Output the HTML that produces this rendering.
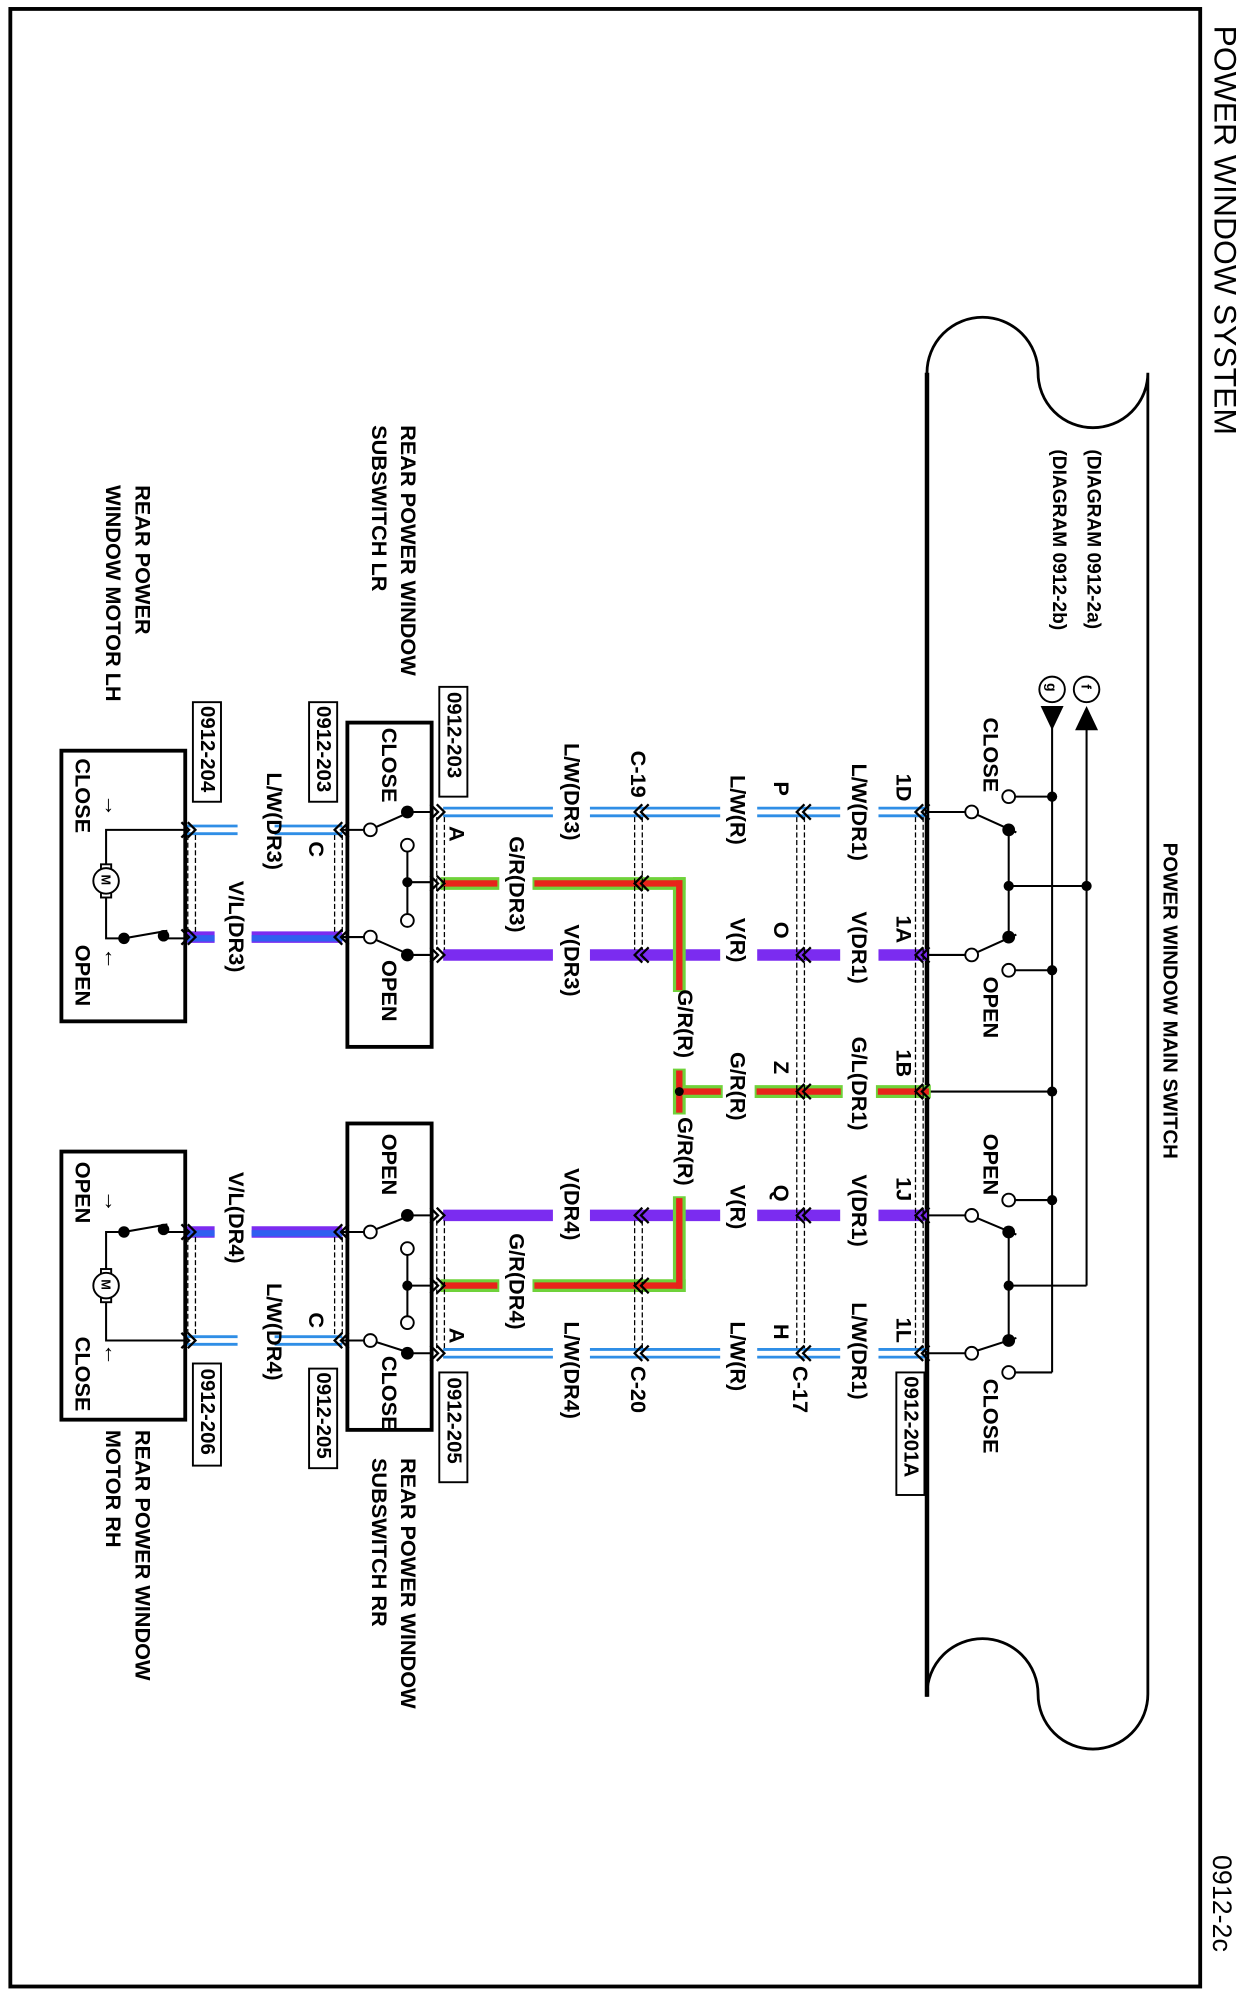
<!DOCTYPE html>
<html><head><meta charset="utf-8"><style>
html,body{margin:0;padding:0;background:#fff;}
svg{display:block;}
text{font-family:"Liberation Sans",Arial,sans-serif;font-weight:bold;fill:#000;}
</style></head><body>
<svg width="1245" height="1998" viewBox="0 0 975 1565" xmlns="http://www.w3.org/2000/svg">
<defs>
<g id="chL" fill="none" stroke="#000" stroke-width="1.8"><path d="M3,-6 L-3,0 L3,6 M8,-6 L2,0 L8,6"/></g>
<g id="chR" fill="none" stroke="#000" stroke-width="1.8"><path d="M-3,-6 L3,0 L-3,6 M-8,-6 L-2,0 L-8,6"/></g>
</defs>
<rect x="8" y="7" width="932" height="1549" fill="none" stroke="#000" stroke-width="3"/>
<text transform="translate(960,20) rotate(90)" font-size="25" dominant-baseline="central" style="font-weight:normal">POWER WINDOW SYSTEM</text>
<text transform="translate(957,1453) rotate(90)" font-size="21" dominant-baseline="central" style="font-weight:normal">0912-2c</text>

<!-- main switch outline -->
<path d="M726,1329 L726,292 A43,43 0 0 1 813,292 A43,43 0 0 0 899,292 L899,1327 A43,43 0 0 1 813,1327 A43,43 0 0 0 726,1327" fill="none" stroke="#000" stroke-width="2.2"/>
<line x1="726" y1="292" x2="726" y2="1329" stroke="#000" stroke-width="3.5"/>
<text transform="translate(916,660) rotate(90)" font-size="16" dominant-baseline="central">POWER WINDOW MAIN SWITCH</text>
<text transform="translate(856,352) rotate(90)" font-size="15" dominant-baseline="central">(DIAGRAM  0912-2a)</text>
<text transform="translate(829,352) rotate(90)" font-size="15" dominant-baseline="central">(DIAGRAM  0912-2b)</text>
<circle cx="851" cy="540" r="10" fill="#fff" stroke="#000" stroke-width="1.5"/>
<text transform="translate(851,536) rotate(90)" font-size="11" dominant-baseline="central">f</text>
<circle cx="824" cy="540" r="10" fill="#fff" stroke="#000" stroke-width="1.5"/>
<text transform="translate(824,535) rotate(90)" font-size="11" dominant-baseline="central">g</text>
<polygon points="815,553 833,553 824,572" fill="#000"/>
<polygon points="842,572 860,572 851,553" fill="#000"/>

<g stroke="#000" stroke-width="1.6" fill="none">
<line x1="824" y1="570" x2="824" y2="1075"/>
<line x1="851" y1="570" x2="851" y2="1007"/>
<line x1="795" y1="624" x2="824" y2="624"/>
<line x1="726" y1="636" x2="756" y2="636"/>
<line x1="765" y1="638" x2="796" y2="652"/>
<line x1="790" y1="650" x2="790" y2="734"/>
<line x1="790" y1="694" x2="851" y2="694"/>
<line x1="726" y1="748" x2="756" y2="748"/>
<line x1="765" y1="746" x2="796" y2="732"/>
<line x1="795" y1="760" x2="824" y2="760"/>
<line x1="726" y1="855" x2="824" y2="855"/>
<line x1="795" y1="940" x2="824" y2="940"/>
<line x1="726" y1="952" x2="756" y2="952"/>
<line x1="765" y1="954" x2="796" y2="967"/>
<line x1="790" y1="965" x2="790" y2="1050"/>
<line x1="790" y1="1007" x2="851" y2="1007"/>
<line x1="726" y1="1060" x2="756" y2="1060"/>
<line x1="765" y1="1058" x2="796" y2="1048"/>
<line x1="795" y1="1075" x2="824" y2="1075"/>
</g>
<g fill="#fff" stroke="#000" stroke-width="1.5">
<circle cx="790" cy="624" r="5"/><circle cx="761" cy="636" r="5"/><circle cx="761" cy="748" r="5"/><circle cx="790" cy="760" r="5"/>
<circle cx="790" cy="940" r="5"/><circle cx="761" cy="952" r="5"/><circle cx="761" cy="1060" r="5"/><circle cx="790" cy="1075" r="5"/>
</g>
<g fill="#000">
<circle cx="824" cy="624" r="4"/><circle cx="790" cy="650" r="5"/><circle cx="790" cy="694" r="4"/><circle cx="851" cy="694" r="4"/>
<circle cx="790" cy="734" r="5"/><circle cx="824" cy="760" r="4"/><circle cx="824" cy="855" r="4"/><circle cx="824" cy="940" r="4"/>
<circle cx="790" cy="965" r="5"/><circle cx="790" cy="1007" r="4"/><circle cx="790" cy="1050" r="5"/>
</g>
<g font-size="17">
<text transform="translate(776,562) rotate(90)" dominant-baseline="central">CLOSE</text>
<text transform="translate(776,765) rotate(90)" dominant-baseline="central">OPEN</text>
<text transform="translate(776,888) rotate(90)" dominant-baseline="central">OPEN</text>
<text transform="translate(776,1080) rotate(90)" dominant-baseline="central">CLOSE</text>
</g>

<!-- wires -->
<g stroke="#2f8ee6" stroke-width="2.2">
<line x1="347" y1="633" x2="433" y2="633"/><line x1="347" y1="639" x2="433" y2="639"/>
<line x1="462" y1="633" x2="564" y2="633"/><line x1="462" y1="639" x2="564" y2="639"/>
<line x1="593" y1="633" x2="658" y2="633"/><line x1="593" y1="639" x2="658" y2="639"/>
<line x1="688" y1="633" x2="726" y2="633"/><line x1="688" y1="639" x2="726" y2="639"/>
<line x1="347" y1="1057" x2="433" y2="1057"/><line x1="347" y1="1063" x2="433" y2="1063"/>
<line x1="462" y1="1057" x2="564" y2="1057"/><line x1="462" y1="1063" x2="564" y2="1063"/>
<line x1="593" y1="1057" x2="658" y2="1057"/><line x1="593" y1="1063" x2="658" y2="1063"/>
<line x1="688" y1="1057" x2="726" y2="1057"/><line x1="688" y1="1063" x2="726" y2="1063"/>
<line x1="146" y1="647" x2="186" y2="647"/><line x1="146" y1="653" x2="186" y2="653"/>
<line x1="215" y1="647" x2="268" y2="647"/><line x1="215" y1="653" x2="268" y2="653"/>
<line x1="146" y1="1047" x2="186" y2="1047"/><line x1="146" y1="1053" x2="186" y2="1053"/>
<line x1="215" y1="1047" x2="268" y2="1047"/><line x1="215" y1="1053" x2="268" y2="1053"/>
</g>
<g stroke="#7b2cf0" stroke-width="9">
<line x1="347" y1="748" x2="433" y2="748"/><line x1="462" y1="748" x2="564" y2="748"/><line x1="593" y1="748" x2="658" y2="748"/><line x1="688" y1="748" x2="726" y2="748"/>
<line x1="347" y1="952" x2="433" y2="952"/><line x1="462" y1="952" x2="564" y2="952"/><line x1="593" y1="952" x2="658" y2="952"/><line x1="688" y1="952" x2="726" y2="952"/>
<line x1="146" y1="734" x2="168" y2="734"/><line x1="197" y1="734" x2="268" y2="734"/>
<line x1="146" y1="965" x2="168" y2="965"/><line x1="197" y1="965" x2="268" y2="965"/>
</g>
<g stroke="#2f5ff0" stroke-width="5">
<line x1="146" y1="735" x2="168" y2="735"/><line x1="197" y1="735" x2="268" y2="735"/>
<line x1="146" y1="966" x2="168" y2="966"/><line x1="197" y1="966" x2="268" y2="966"/>
</g>
<g stroke="#6fd23a" stroke-width="10" stroke-linecap="square">
<line x1="350" y1="692" x2="386" y2="692"/><line x1="422" y1="692" x2="532" y2="692"/>
<line x1="350" y1="1007" x2="386" y2="1007"/><line x1="422" y1="1007" x2="532" y2="1007"/>
<line x1="532" y1="692" x2="532" y2="772"/><line x1="532" y1="842" x2="532" y2="868"/><line x1="532" y1="942" x2="532" y2="1007"/>
<line x1="535" y1="855" x2="561" y2="855"/><line x1="596" y1="855" x2="655" y2="855"/><line x1="691" y1="855" x2="724" y2="855"/>
</g>
<g stroke="#e8231a" stroke-width="5" stroke-linecap="square">
<line x1="349" y1="692" x2="387" y2="692"/><line x1="421" y1="692" x2="532" y2="692"/>
<line x1="349" y1="1007" x2="387" y2="1007"/><line x1="421" y1="1007" x2="532" y2="1007"/>
<line x1="532" y1="692" x2="532" y2="773"/><line x1="532" y1="841" x2="532" y2="869"/><line x1="532" y1="941" x2="532" y2="1007"/>
<line x1="534" y1="855" x2="562" y2="855"/><line x1="595" y1="855" x2="656" y2="855"/><line x1="690" y1="855" x2="725" y2="855"/>
</g>
<circle cx="532" cy="855" r="3.5" fill="#000"/>

<g stroke="#000" stroke-width="1" stroke-dasharray="4 2" fill="none">
<line x1="717" y1="640" x2="717" y2="1056"/><line x1="723" y1="640" x2="723" y2="1056"/>
<line x1="624" y1="640" x2="624" y2="1056"/><line x1="630" y1="640" x2="630" y2="1056"/>
<line x1="497" y1="640" x2="497" y2="744"/><line x1="503" y1="640" x2="503" y2="744"/>
<line x1="497" y1="956" x2="497" y2="1056"/><line x1="503" y1="956" x2="503" y2="1056"/>
<line x1="342" y1="640" x2="342" y2="744"/><line x1="348" y1="640" x2="348" y2="744"/>
<line x1="342" y1="956" x2="342" y2="1056"/><line x1="348" y1="956" x2="348" y2="1056"/>
<line x1="262" y1="654" x2="262" y2="730"/><line x1="268" y1="654" x2="268" y2="730"/>
<line x1="262" y1="969" x2="262" y2="1046"/><line x1="268" y1="969" x2="268" y2="1046"/>
<line x1="147" y1="654" x2="147" y2="730"/><line x1="153" y1="654" x2="153" y2="730"/>
<line x1="147" y1="969" x2="147" y2="1046"/><line x1="153" y1="969" x2="153" y2="1046"/>
</g>
<g>
<use href="#chL" x="720" y="636"/><use href="#chL" x="720" y="748"/><use href="#chL" x="720" y="855"/><use href="#chL" x="720" y="952"/><use href="#chL" x="720" y="1060"/>
<use href="#chL" x="627" y="636"/><use href="#chL" x="627" y="748"/><use href="#chL" x="627" y="855"/><use href="#chL" x="627" y="952"/><use href="#chL" x="627" y="1060"/>
<use href="#chL" x="500" y="636"/><use href="#chL" x="500" y="692"/><use href="#chL" x="500" y="748"/><use href="#chL" x="500" y="952"/><use href="#chL" x="500" y="1007"/><use href="#chL" x="500" y="1060"/>
<use href="#chR" x="345" y="636"/><use href="#chR" x="345" y="692"/><use href="#chR" x="345" y="748"/><use href="#chR" x="345" y="952"/><use href="#chR" x="345" y="1007"/><use href="#chR" x="345" y="1060"/>
<use href="#chL" x="265" y="650"/><use href="#chL" x="265" y="734"/><use href="#chL" x="265" y="965"/><use href="#chL" x="265" y="1050"/>
<use href="#chR" x="150" y="650"/><use href="#chR" x="150" y="734"/><use href="#chR" x="150" y="965"/><use href="#chR" x="150" y="1050"/>
</g>

<g stroke="#000" fill="none">
<rect x="272" y="566" width="66" height="254" stroke-width="3"/>
<rect x="272" y="880" width="66" height="240" stroke-width="3"/>
<rect x="48" y="588" width="97" height="212" stroke-width="3"/>
<rect x="48" y="902" width="97" height="210" stroke-width="3"/>
<g stroke-width="1.6">
<line x1="319" y1="636" x2="338" y2="636"/><line x1="319" y1="637" x2="294" y2="648"/><line x1="285" y1="650" x2="268" y2="650"/>
<line x1="319" y1="667" x2="319" y2="716"/><line x1="319" y1="691" x2="338" y2="691"/>
<line x1="319" y1="748" x2="338" y2="748"/><line x1="319" y1="747" x2="294" y2="736"/><line x1="285" y1="734" x2="268" y2="734"/>
<line x1="319" y1="952" x2="338" y2="952"/><line x1="319" y1="953" x2="294" y2="963"/><line x1="285" y1="965" x2="268" y2="965"/>
<line x1="319" y1="983" x2="319" y2="1031"/><line x1="319" y1="1007" x2="338" y2="1007"/>
<line x1="319" y1="1060" x2="338" y2="1060"/><line x1="319" y1="1059" x2="294" y2="1051"/><line x1="285" y1="1050" x2="268" y2="1050"/>
<polyline points="145,650 83,650 83,680"/><polyline points="83,700 83,735 97,735"/><line x1="97" y1="735" x2="131" y2="729"/><line x1="128" y1="735" x2="145" y2="735"/>
<polyline points="145,1050 83,1050 83,1017"/><polyline points="83,997 83,965 97,965"/><line x1="97" y1="965" x2="131" y2="959"/><line x1="128" y1="965" x2="145" y2="965"/>
</g>
</g>
<g fill="#fff" stroke="#000" stroke-width="1.5">
<circle cx="290" cy="650" r="5"/><circle cx="319" cy="662" r="5"/><circle cx="319" cy="721" r="5"/><circle cx="290" cy="734" r="5"/>
<circle cx="290" cy="965" r="5"/><circle cx="319" cy="978" r="5"/><circle cx="319" cy="1036" r="5"/><circle cx="290" cy="1050" r="5"/>
<rect x="79" y="677" width="8" height="4"/><rect x="79" y="699" width="8" height="4"/><circle cx="83" cy="690" r="10"/>
<rect x="79" y="994" width="8" height="4"/><rect x="79" y="1016" width="8" height="4"/><circle cx="83" cy="1007" r="10"/>
</g>
<g fill="#000">
<circle cx="319" cy="636" r="5"/><circle cx="319" cy="691" r="4"/><circle cx="319" cy="748" r="5"/>
<circle cx="319" cy="952" r="5"/><circle cx="319" cy="1007" r="4"/><circle cx="319" cy="1060" r="5"/>
<circle cx="97" cy="735" r="4.5"/><circle cx="128" cy="733" r="4.5"/>
<circle cx="97" cy="965" r="4.5"/><circle cx="128" cy="963" r="4.5"/>
</g>
<text transform="translate(83,685) rotate(90)" font-size="10" dominant-baseline="central">M</text>
<text transform="translate(83,1002) rotate(90)" font-size="10" dominant-baseline="central">M</text>

<g font-size="17">
<text transform="translate(305,570) rotate(90)" dominant-baseline="central">CLOSE</text>
<text transform="translate(305,752) rotate(90)" dominant-baseline="central">OPEN</text>
<text transform="translate(305,888) rotate(90)" dominant-baseline="central">OPEN</text>
<text transform="translate(305,1062) rotate(90)" dominant-baseline="central">CLOSE</text>
<text transform="translate(65,594) rotate(90)" dominant-baseline="central">CLOSE</text>
<text transform="translate(65,740) rotate(90)" dominant-baseline="central">OPEN</text>
<text transform="translate(65,910) rotate(90)" dominant-baseline="central">OPEN</text>
<text transform="translate(65,1047) rotate(90)" dominant-baseline="central">CLOSE</text>
<text transform="translate(88,622) rotate(90)" font-size="18" dominant-baseline="central">→</text>
<text transform="translate(88,742) rotate(90)" font-size="18" dominant-baseline="central">←</text>
<text transform="translate(88,932) rotate(90)" font-size="18" dominant-baseline="central">→</text>
<text transform="translate(88,1052) rotate(90)" font-size="18" dominant-baseline="central">←</text>

<text transform="translate(708,606) rotate(90)" dominant-baseline="central">1D</text>
<text transform="translate(673,598) rotate(90)" dominant-baseline="central">L/W(DR1)</text>
<text transform="translate(708,717) rotate(90)" dominant-baseline="central">1A</text>
<text transform="translate(673,714) rotate(90)" dominant-baseline="central">V(DR1)</text>
<text transform="translate(708,822) rotate(90)" dominant-baseline="central">1B</text>
<text transform="translate(673,812) rotate(90)" dominant-baseline="central">G/L(DR1)</text>
<text transform="translate(708,922) rotate(90)" dominant-baseline="central">1J</text>
<text transform="translate(673,920) rotate(90)" dominant-baseline="central">V(DR1)</text>
<text transform="translate(708,1032) rotate(90)" dominant-baseline="central">1L</text>
<text transform="translate(673,1020) rotate(90)" dominant-baseline="central">L/W(DR1)</text>

<text transform="translate(612,612) rotate(90)" dominant-baseline="central">P</text>
<text transform="translate(612,722) rotate(90)" dominant-baseline="central">O</text>
<text transform="translate(612,831) rotate(90)" dominant-baseline="central">Z</text>
<text transform="translate(612,928) rotate(90)" dominant-baseline="central">Q</text>
<text transform="translate(612,1037) rotate(90)" dominant-baseline="central">H</text>
<text transform="translate(627,1070) rotate(90)" dominant-baseline="central">C-17</text>

<text transform="translate(578,607) rotate(90)" dominant-baseline="central">L/W(R)</text>
<text transform="translate(578,719) rotate(90)" dominant-baseline="central">V(R)</text>
<text transform="translate(578,824) rotate(90)" dominant-baseline="central">G/R(R)</text>
<text transform="translate(578,928) rotate(90)" dominant-baseline="central">V(R)</text>
<text transform="translate(578,1035) rotate(90)" dominant-baseline="central">L/W(R)</text>

<text transform="translate(537,775) rotate(90)" dominant-baseline="central">G/R(R)</text>
<text transform="translate(537,875) rotate(90)" dominant-baseline="central">G/R(R)</text>

<text transform="translate(500,588) rotate(90)" dominant-baseline="central">C-19</text>
<text transform="translate(500,1070) rotate(90)" dominant-baseline="central">C-20</text>

<text transform="translate(448,582) rotate(90)" dominant-baseline="central">L/W(DR3)</text>
<text transform="translate(448,724) rotate(90)" dominant-baseline="central">V(DR3)</text>
<text transform="translate(448,915) rotate(90)" dominant-baseline="central">V(DR4)</text>
<text transform="translate(448,1035) rotate(90)" dominant-baseline="central">L/W(DR4)</text>
<text transform="translate(405,655) rotate(90)" dominant-baseline="central">G/R(DR3)</text>
<text transform="translate(405,966) rotate(90)" dominant-baseline="central">G/R(DR4)</text>

<text transform="translate(358,647) rotate(90)" dominant-baseline="central">A</text>
<text transform="translate(358,1040) rotate(90)" dominant-baseline="central">A</text>
<text transform="translate(248,659) rotate(90)" dominant-baseline="central">C</text>
<text transform="translate(248,1028) rotate(90)" dominant-baseline="central">C</text>

<text transform="translate(215,605) rotate(90)" dominant-baseline="central">L/W(DR3)</text>
<text transform="translate(185,690) rotate(90)" dominant-baseline="central">V/L(DR3)</text>
<text transform="translate(185,918) rotate(90)" dominant-baseline="central">V/L(DR4)</text>
<text transform="translate(215,1005) rotate(90)" dominant-baseline="central">L/W(DR4)</text>

<text transform="translate(320,333) rotate(90)" dominant-baseline="central">REAR POWER WINDOW</text>
<text transform="translate(297,333) rotate(90)" dominant-baseline="central">SUBSWITCH LR</text>
<text transform="translate(112,380) rotate(90)" dominant-baseline="central">REAR POWER</text>
<text transform="translate(89,380) rotate(90)" dominant-baseline="central">WINDOW MOTOR LH</text>
<text transform="translate(320,1142) rotate(90)" dominant-baseline="central">REAR POWER WINDOW</text>
<text transform="translate(297,1142) rotate(90)" dominant-baseline="central">SUBSWITCH RR</text>
<text transform="translate(112,1120) rotate(90)" dominant-baseline="central">REAR POWER WINDOW</text>
<text transform="translate(89,1120) rotate(90)" dominant-baseline="central">MOTOR RH</text>
</g>
<g fill="none" stroke="#000" stroke-width="1.5">
<rect x="344" y="538" width="22" height="86"/>
<rect x="242" y="550" width="22" height="78"/>
<rect x="151" y="550" width="22" height="78"/>
<rect x="344" y="1075" width="22" height="86"/>
<rect x="242" y="1072" width="22" height="78"/>
<rect x="151" y="1068" width="22" height="80"/>
<rect x="702" y="1075" width="22" height="96"/>
</g>
<g font-size="16">
<text transform="translate(355,542) rotate(90)" dominant-baseline="central">0912-203</text>
<text transform="translate(253,553) rotate(90)" dominant-baseline="central">0912-203</text>
<text transform="translate(162,553) rotate(90)" dominant-baseline="central">0912-204</text>
<text transform="translate(355,1079) rotate(90)" dominant-baseline="central">0912-205</text>
<text transform="translate(253,1075) rotate(90)" dominant-baseline="central">0912-205</text>
<text transform="translate(162,1072) rotate(90)" dominant-baseline="central">0912-206</text>
<text transform="translate(713,1078) rotate(90)" dominant-baseline="central">0912-201A</text>
</g>
</svg>
</body></html>
